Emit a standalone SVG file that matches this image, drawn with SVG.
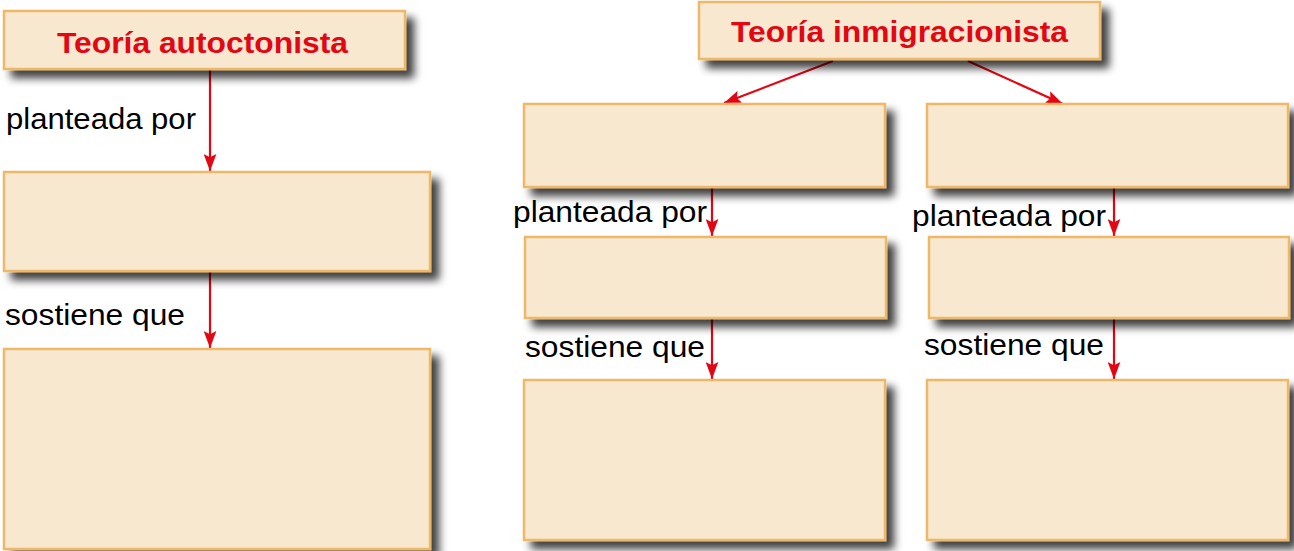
<svg xmlns="http://www.w3.org/2000/svg" width="1294" height="551" viewBox="0 0 1294 551">
<defs>
<filter id="sh" x="-10%" y="-20%" width="130%" height="150%">
<feDropShadow dx="8" dy="8" stdDeviation="4" flood-color="#000" flood-opacity="0.75"/>
</filter>
<marker id="ah" viewBox="0 0 16 12" refX="16" refY="6" markerWidth="17" markerHeight="13" markerUnits="userSpaceOnUse" orient="auto">
<path d="M0,0 L16,6 L0,12 L3,6 z" fill="#E30613"/>
</marker>
<style>
.box{fill:#F9E8D0;stroke:#EDB867;stroke-width:2.5;filter:url(#sh)}
.title{font-family:"Liberation Sans",Arial,sans-serif;font-weight:bold;fill:#E30613;text-anchor:start}
.lbl{font-family:"Liberation Sans",Arial,sans-serif;font-size:29px;fill:#000}
.con{stroke:#E30613;stroke-width:2.2;fill:none;marker-end:url(#ah)}
</style>
</defs>
<rect width="1294" height="551" fill="#fff"/>
<g id="connectors">
<line class="con" x1="210" y1="70" x2="210" y2="171"/>
<line class="con" x1="210" y1="272" x2="210" y2="348"/>
<line class="con" x1="833" y1="61" x2="724" y2="103"/>
<line class="con" x1="968" y1="61" x2="1063" y2="104"/>
<line class="con" x1="712" y1="188" x2="712" y2="236"/>
<line class="con" x1="1114" y1="188" x2="1114" y2="236"/>
<line class="con" x1="712" y1="319" x2="712" y2="379"/>
<line class="con" x1="1114" y1="319" x2="1114" y2="379"/>
</g>
<g id="labels">
<text class="lbl" x="6" y="129" textLength="190" lengthAdjust="spacingAndGlyphs">planteada por</text>
<text class="lbl" x="5" y="325" textLength="180" lengthAdjust="spacingAndGlyphs">sostiene que</text>
<text class="lbl" x="513" y="222" textLength="194" lengthAdjust="spacingAndGlyphs">planteada por</text>
<text class="lbl" x="912" y="226" textLength="194" lengthAdjust="spacingAndGlyphs">planteada por</text>
<text class="lbl" x="525" y="357" textLength="180" lengthAdjust="spacingAndGlyphs">sostiene que</text>
<text class="lbl" x="924" y="355" textLength="180" lengthAdjust="spacingAndGlyphs">sostiene que</text>
</g>
<g id="n-autoctonista">
<rect class="box" x="4" y="11" width="401" height="58"/>
<text class="title" x="57" y="53" font-size="29" textLength="291" lengthAdjust="spacingAndGlyphs">Teoría autoctonista</text>
</g>
<g id="n-auto-por"><rect class="box" x="4" y="172" width="426" height="99"/></g>
<g id="n-auto-que"><rect class="box" x="4" y="349" width="426" height="200"/></g>
<g id="n-inmigracionista">
<rect class="box" x="699" y="2" width="401" height="57"/>
<text class="title" x="731" y="42" font-size="30" textLength="337" lengthAdjust="spacingAndGlyphs">Teoría inmigracionista</text>
</g>
<g id="n-inm-a"><rect class="box" x="524" y="104" width="361" height="83"/></g>
<g id="n-inm-b"><rect class="box" x="927" y="104" width="361" height="83"/></g>
<g id="n-inm-a-por"><rect class="box" x="525" y="237" width="361" height="81"/></g>
<g id="n-inm-b-por"><rect class="box" x="929" y="237" width="360" height="81"/></g>
<g id="n-inm-a-que"><rect class="box" x="524" y="380" width="361" height="160"/></g>
<g id="n-inm-b-que"><rect class="box" x="927" y="380" width="361" height="160"/></g>
</svg>
